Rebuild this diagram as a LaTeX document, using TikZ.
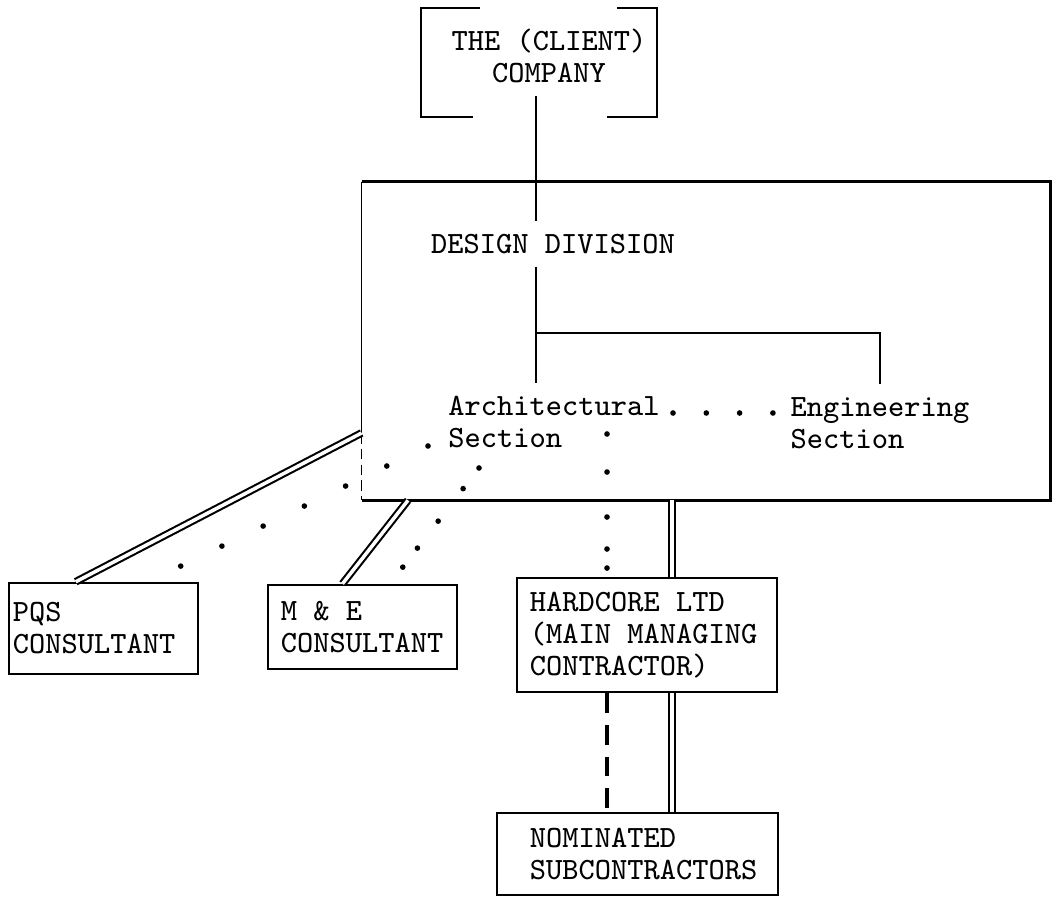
\documentclass[tikz,border=0pt]{standalone}
\usepackage{fontspec}
\usepackage{tikz}
\usetikzlibrary{positioning}

\begin{document}
\begin{tikzpicture}[
    x=0.01cm, y=-0.01cm,
    line width=0.7pt,
    every node/.style={font=\fontsize{8.8}{9.1}\selectfont\ttfamily},
    box/.style={rectangle, draw=black, align=left, inner ysep=0pt,
        execute at begin node={\spaceskip=0.525em\relax}},
    dbl/.style={double, double distance=1pt, line width=0.6pt},
    typedots/.style={line width=1.6pt, line cap=round},
    ]
    \useasboundingbox (0,0) rectangle (1052,901);

    % client, bracketed at the top
    \node (client) [align=center] at (549,56) {THE (CLIENT)\\COMPANY};
    \draw (480,8) -- (421,8) -- (421,117) -- (473,117);
    \draw (617,8) -- (657,8) -- (657,117) -- (607,117);

    % design division box and its sections
    \node (design) [rectangle, minimum width=6.86cm, minimum height=3.16cm, inner sep=0pt] at (706,341) {};
    \node (ddiv) at (553,244) {DESIGN DIVISION};
    \node (arch) [align=left] at (554,422) {Architectural\\Section};
    \node (eng) [align=left] at (880,423) {Engineering\\Section};

    % consultants and contractors
    \node (pqs) [box, text width=1.81cm, inner xsep=0.04cm, minimum height=0.91cm] at (103.5,628.5) {PQS\\CONSULTANT};
    \node (me) [box, text width=1.63cm, inner xsep=0.13cm, minimum height=0.84cm] at (362.5,627) {M \& E\\CONSULTANT};
    \node (hc) [box, text width=2.34cm, inner xsep=0.13cm, minimum height=1.14cm] at (647,635) {HARDCORE LTD\\(MAIN MANAGING\\CONTRACTOR)};
    \node (nom) [box, text width=2.15cm, inner xsep=0.33cm, minimum height=0.82cm] at (637.5,854) {NOMINATED\\SUBCONTRACTORS};

    \coordinate (trunk) at (536,0);
    \coordinate (spine) at (672,0);
    \coordinate (bar) at (536,333);
    \coordinate (pqsjoin) at (design.west |- 0,433);
    \coordinate (archend) at (673,413);
    \coordinate (secdot) at (428,446);
    \coordinate (secdot2) at (479,468);
    \coordinate (archv) at (607,434);

    % outline of the design division, left side thin
    \draw (design.south west) -- (design.south east) -- (design.north east) -- (design.north west);
    \draw [line width=0.4pt] (design.north west) -- (pqsjoin);
    \draw [line width=0.4pt, dash pattern=on 3pt off 1.5pt] (pqsjoin) -- (design.south west);

    % line of command
    \draw (client.south -| trunk) -- (ddiv.north -| trunk);
    \draw (ddiv.south -| trunk) -- (arch.north -| trunk);
    \draw (bar) -| (eng.north);

    % contracts
    \draw [dbl] ([xshift=0.68cm]pqs.north west) -- (pqsjoin);
    \draw [dbl] ([xshift=-0.2cm]me.north) -- (design.south -| 408,0);
    \draw [dbl] (design.south -| spine) -- (hc.north -| spine);
    \draw [dbl] (hc.south -| spine) -- (nom.north -| spine);
    \draw [line width=0.9pt, dash pattern=on 5.6pt off 3.4pt] (hc.south -| archv) -- (nom.north -| archv);

    % lines of communication
    \draw [typedots, dash pattern=on 0pt off 9.47pt] (archend) -- (archend -| eng.west);
    \draw [typedots, dash pattern=on 0pt off 13.03pt] (secdot) -- ([xshift=0.45cm]pqs.north);
    \draw [typedots, dash pattern=on 0pt off 7.4pt on 0pt off 11.66pt on 0pt off 9.67pt on 0pt off 6.83pt on 0pt off 20pt] (secdot2) -- ([xshift=0.275cm]me.north);
    \draw [typedots, dash pattern=on 0pt off 10.81pt on 0pt off 12.8pt on 0pt off 9.1pt on 0pt off 5.41pt on 0pt off 20pt] (archv) -- (archv |- hc.north);
\end{tikzpicture}
\end{document}
